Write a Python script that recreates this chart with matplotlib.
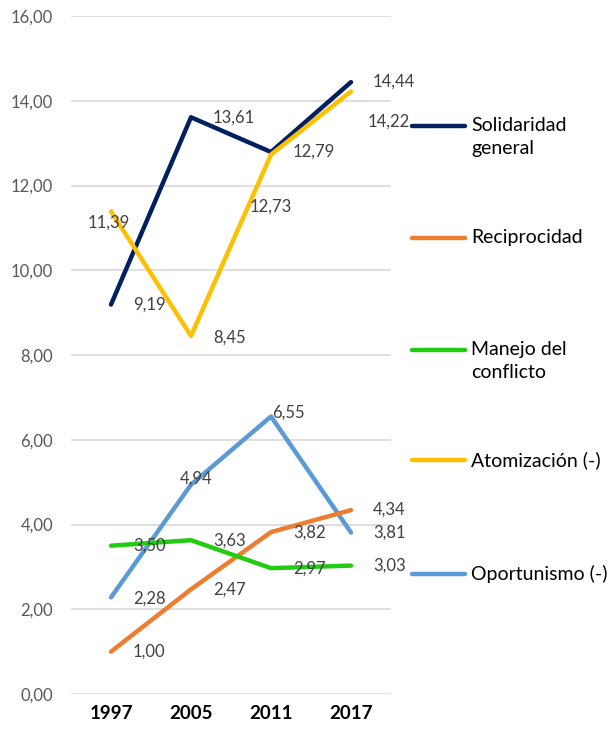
import numpy as np
import matplotlib.pyplot as plt
from matplotlib.lines import Line2D

plt.rcParams['font.family'] = ['Lato', 'DejaVu Sans']

years = ['1997', '2005', '2011', '2017']
series_names = ['Solidaridad\ngeneral', 'Reciprocidad', 'Manejo del\nconflicto',
                'Atomización (-)', 'Oportunismo (-)']
solidaridad = [9.19, 13.61, 12.79, 14.44]
reciprocidad = [1.00, 2.47, 3.82, 4.34]
manejo = [3.50, 3.63, 2.97, 3.03]
atomizacion = [11.39, 8.45, 12.73, 14.22]
oportunismo = [2.28, 4.94, 6.55, 3.81]
colors = ['#002060', '#ED7D31', '#22CC11', '#FFC000', '#5B9BD5']

# label offsets in pixels (dx, dy, ha) per point
offsets = {
    0: [(22, 0, 'left')] * 4,
    1: [(22, 0, 'left')] * 4,
    2: [(22, 0, 'left')] * 4,
    3: [(-2, -11, 'center'), (22, -2, 'left'), (0, -52, 'center'), (17, -30, 'left')],
    4: [(22, -1, 'left'), (5, 6, 'center'), (1, 4, 'left'), (22, 0, 'left')],
}

fig = plt.figure(figsize=(6.13, 7.34), dpi=100)
ax = fig.add_axes([71 / 613, 40 / 734, 320 / 613, 678 / 734])

x = np.arange(len(years))
data = [solidaridad, reciprocidad, manejo, atomizacion, oportunismo]
for i in [4, 1, 2, 0, 3]:
    ax.plot(x, data[i], color=colors[i], lw=3.2, solid_capstyle='round', zorder=3)
for i, vals in enumerate(data):
    for j, v in enumerate(vals):
        dx, dy, ha = offsets[i][j]
        ax.annotate(f'{v:.2f}'.replace('.', ','), (x[j], v), xytext=(dx, dy),
                    textcoords='offset pixels', ha=ha, va='center',
                    fontsize=12, color='#404040', zorder=4)

ax.set_xlim(-0.5, 3.5)
ax.set_ylim(0, 16)
ax.set_yticks(np.arange(0, 17, 2))
ax.set_yticklabels([f'{t:.2f}'.replace('.', ',') for t in np.arange(0, 17, 2)])
ax.set_xticks(x)
ax.set_xticklabels(years, fontweight='bold', fontsize=13.5)
ax.grid(axis='y', color='#D9D9D9', lw=1.2)
ax.set_axisbelow(True)
for s in ax.spines.values():
    s.set_visible(False)
ax.tick_params(length=0)
ax.tick_params(axis='y', labelsize=12, labelcolor='#595959', pad=13)
ax.tick_params(axis='x', pad=8)

# legend drawn by hand on the right
leg_y = [126, 238, 350, 460, 574]
for i, name in enumerate(series_names):
    yy = 1 - leg_y[i] / 734
    fig.add_artist(Line2D([412 / 613, 465 / 613], [yy, yy], color=colors[i],
                          lw=3.2, solid_capstyle='round', transform=fig.transFigure))
    fig.text(471 / 613, yy + 9 / 734, name, ha='left', va='top', fontsize=14,
             linespacing=1.45)

fig.savefig('out.png', dpi=100)
